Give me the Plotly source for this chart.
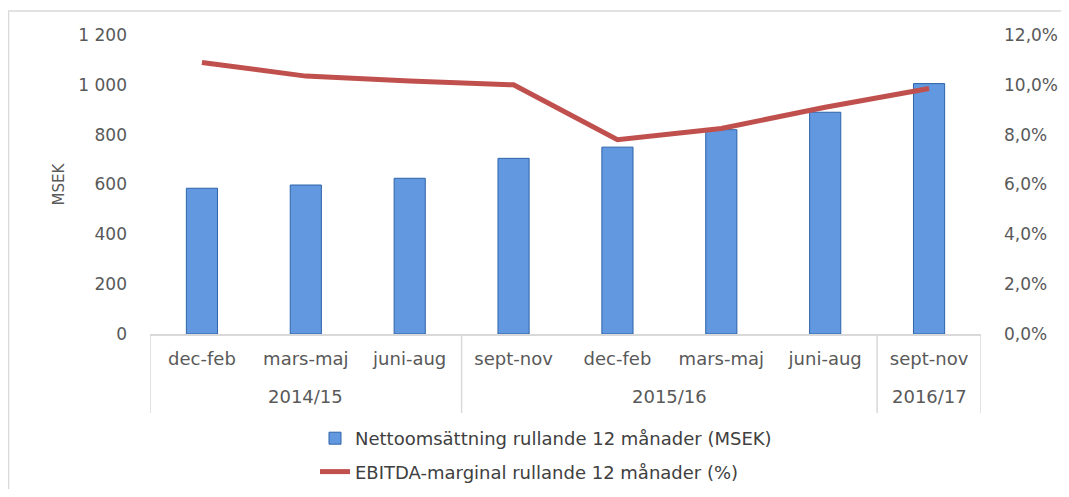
import plotly.graph_objects as go

years = ["2014/15", "2014/15", "2014/15", "2015/16", "2015/16", "2015/16", "2015/16", "2016/17"]
periods = ["dec-feb", "mars-maj", "juni-aug", "sept-nov", "dec-feb", "mars-maj", "juni-aug", "sept-nov"]
sales_msek = [585, 598, 625, 705, 750, 820, 890, 1005]
ebitda_pct = [10.9, 10.35, 10.15, 10.0, 7.8, 8.25, 9.1, 9.85]

bar_name = "Nettoomsättning rullande 12 månader (MSEK)"
line_name = "EBITDA-marginal rullande 12 månader (%)"

O = 8  # page body margin offset
W, H = 1069 - 2 * O, 497 - 2 * O
L, R, T, B = 150 - O, 981 - O, 35 - O, 334 - O
pw, ph = R - L, B - T

font = "DejaVu Sans, sans-serif"
grey = "#595959"
divc = "#d9d9d9"

idx = list(range(len(periods)))

fig = go.Figure()
fig.add_trace(go.Bar(
    x=idx, y=sales_msek, name=bar_name,
    marker=dict(color="#6198df", line=dict(color="#2f64a8", width=1)),
    width=0.3, legendgroup="a",
))
fig.add_trace(go.Scatter(
    x=idx, y=ebitda_pct, name=line_name, yaxis="y2",
    mode="lines", line=dict(color="#c0504d", width=5),
    legendgroup="b",
))

# year groups
groups = []
for i, yname in enumerate(years):
    if groups and groups[-1][0] == yname:
        groups[-1][2] = i
    else:
        groups.append([yname, i, i])

def py(page_y):
    return (B - (page_y - O)) / ph

def px(page_x):
    return ((page_x - O) - L) / pw

shapes = [dict(
    type="rect", xref="paper", yref="paper",
    x0=px(8.5), x1=px(1090), y0=py(520), y1=py(11),
    line=dict(color=divc, width=1.5), fillcolor="rgba(0,0,0,0)", layer="below",
)]
annotations = []
for yname, a, b in groups:
    annotations.append(dict(
        x=(a + b) / 2, xref="x", y=py(396), yref="paper",
        text=yname, showarrow=False, font=dict(family=font, size=18, color=grey),
        xanchor="center", yanchor="middle",
    ))
bounds = sorted(set([g[1] - 0.5 for g in groups] + [groups[-1][2] + 0.5]))
for bx in bounds:
    shapes.append(dict(type="line", xref="x", yref="paper", x0=bx, x1=bx,
                       y0=0, y1=py(413), line=dict(color=divc, width=1.5)))

fig.update_layout(
    width=W, height=H,
    margin=dict(l=L, r=W - R, t=T, b=H - B, autoexpand=False),
    paper_bgcolor="white", plot_bgcolor="white",
    separators=", ",
    font=dict(family=font, size=17, color=grey),
    showlegend=True,
    legend=dict(x=px(357 - 42), y=py(420), xanchor="left", yanchor="top",
                orientation="v", tracegroupgap=7,
                font=dict(family=font, size=18, color="#404040"),
                bgcolor="rgba(0,0,0,0)"),
    xaxis=dict(
        range=[-0.5, len(periods) - 0.5], tickmode="array", tickvals=idx, ticktext=periods,
        showgrid=False, zeroline=False, showline=True, linecolor=divc, linewidth=1.5,
        ticks="", tickfont=dict(family=font, size=18, color=grey), ticklabelstandoff=8,
        automargin=False,
    ),
    yaxis=dict(
        range=[0, 1200], dtick=200, showgrid=False, zeroline=False, showline=False,
        tickformat=",d", separatethousands=True, ticks="", automargin=False,
        ticklabelstandoff=22,
        title=dict(text="MSEK", font=dict(family=font, size=15, color=grey), standoff=10),
        tickfont=dict(family=font, size=17, color=grey),
    ),
    yaxis2=dict(
        range=[0, 12], dtick=2, overlaying="y", side="right", showgrid=False,
        zeroline=False, showline=False, tickformat=".1f", ticksuffix="%",
        ticklabelstandoff=22, automargin=False,
        tickfont=dict(family=font, size=17, color=grey),
    ),
    shapes=shapes,
    annotations=annotations,
)

fig.write_html("out.html")
